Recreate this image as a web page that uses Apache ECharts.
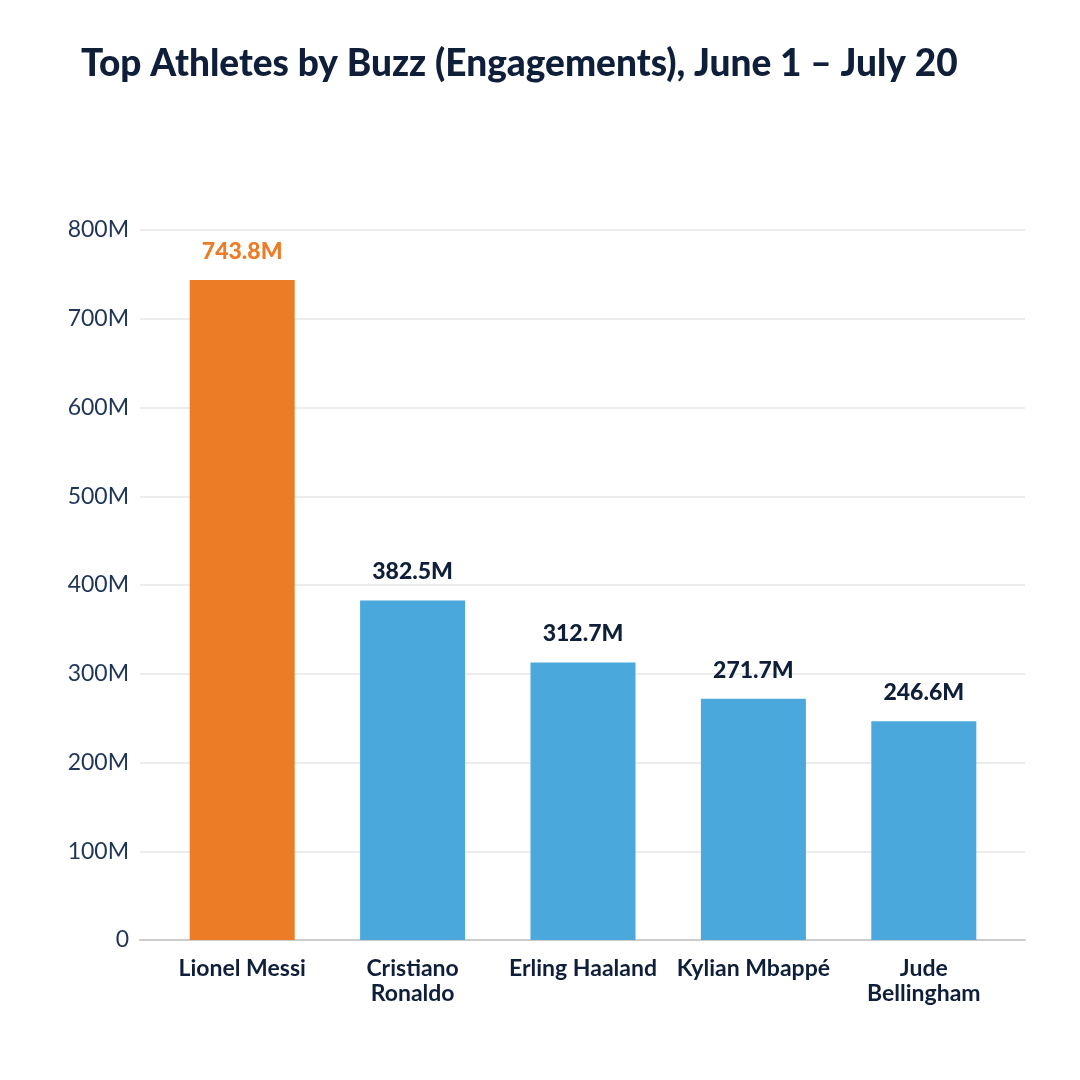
<!DOCTYPE html>
<html><head><meta charset="utf-8">
<script src="https://cdn.jsdelivr.net/npm/echarts@6/dist/echarts.min.js"></script>
<style>html,body{margin:0;padding:0;background:#fff}#c{width:1080px;height:1080px}</style>
</head><body><div id="c"></div>
<script>
const title = 'Top Athletes by Buzz (Engagements), June 1 – July 20';
const categories = ['Lionel Messi', 'Cristiano\nRonaldo', 'Erling Haaland', 'Kylian Mbappé', 'Jude\nBellingham'];
const values = [743.8, 382.5, 312.7, 271.7, 246.6];
const barColors = ['#EC7C26', '#4BA8DC', '#4BA8DC', '#4BA8DC', '#4BA8DC'];
const labelColors = ['#EC7C26', '#0F1F3A', '#0F1F3A', '#0F1F3A', '#0F1F3A'];
const yMin = 0, yMax = 800, yStep = 100;

const font = 'Lato, "Open Sans", sans-serif';
const chart = echarts.init(document.getElementById('c'), null, {renderer: 'canvas'});
chart.setOption({
  backgroundColor: '#ffffff',
  animation: false,
  title: {
    text: title, left: 76, top: 41,
    textStyle: {fontFamily: font, fontWeight: 900, fontSize: 37, color: '#0F1F3A'}
  },
  grid: [
    {left: 140, right: 55, top: 230, bottom: 140},
    {left: 157, right: 71, top: 230, bottom: 140}
  ],
  xAxis: [
    {gridIndex: 0, type: 'value', min: 0, max: 1, axisLabel: {show: false}, axisTick: {show: false}, splitLine: {show: false},
     axisLine: {show: true, lineStyle: {color: '#CCCCCC', width: 2}}},
    {gridIndex: 1, type: 'category', data: categories, axisLine: {show: false}, axisTick: {show: false},
     axisLabel: {margin: 16, fontFamily: font, fontWeight: 700, fontSize: 23, lineHeight: 25, color: '#0F1F3A', interval: 0}}
  ],
  yAxis: [
    {gridIndex: 0, type: 'value', min: yMin, max: yMax, interval: yStep,
     axisLine: {show: false}, axisTick: {show: false},
     axisLabel: {margin: 11, fontFamily: font, fontSize: 23, color: '#1F3558',
       formatter: v => v === 0 ? '0' : v + 'M'},
     splitLine: {show: true, lineStyle: {color: '#E6E6E6', width: 1.5}}},
    {gridIndex: 1, type: 'value', min: yMin, max: yMax, interval: yStep, show: false, splitLine: {show: false}}
  ],
  series: [{
    type: 'bar', xAxisIndex: 1, yAxisIndex: 1, barWidth: 105,
    data: values.map((v, i) => ({
      value: v,
      itemStyle: {color: barColors[i]},
      label: {color: labelColors[i]}
    })),
    label: {show: true, position: 'top', distance: 17, fontFamily: font, fontWeight: 900, fontSize: 23,
      formatter: p => p.value.toFixed(1) + 'M'}
  }]
});
</script></body></html>
